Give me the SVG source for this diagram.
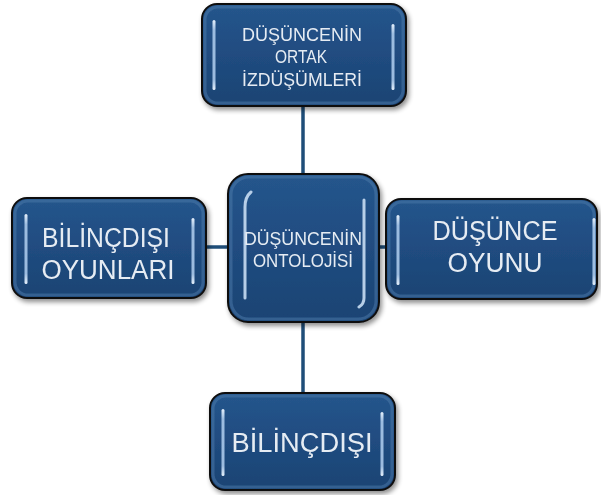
<svg xmlns="http://www.w3.org/2000/svg" width="601" height="495" viewBox="0 0 601 495">
  <defs>
    <linearGradient id="fillG" x1="0" y1="0" x2="0" y2="1">
      <stop offset="0" stop-color="#25558C"/>
      <stop offset="0.5" stop-color="#204C80"/>
      <stop offset="1" stop-color="#1B4373"/>
    </linearGradient>
    <linearGradient id="barG" x1="0" y1="0" x2="0" y2="1">
      <stop offset="0" stop-color="#E6F1FC" stop-opacity="1"/>
      <stop offset="0.15" stop-color="#A9C8EA" stop-opacity="0.9"/>
      <stop offset="0.85" stop-color="#A9C8EA" stop-opacity="0.9"/>
      <stop offset="1" stop-color="#E6F1FC" stop-opacity="1"/>
    </linearGradient>
    <filter id="shadow" x="-10%" y="-10%" width="125%" height="130%">
      <feGaussianBlur in="SourceAlpha" stdDeviation="2.5"/>
      <feOffset dx="2" dy="3" result="b"/>
      <feComponentTransfer><feFuncA type="linear" slope="0.45"/></feComponentTransfer>
      <feMerge><feMergeNode/><feMergeNode in="SourceGraphic"/></feMerge>
    </filter>
  </defs>
  <style>
    .box { fill: url(#fillG); stroke: #111; stroke-width: 2; }
    .inner { fill: none; stroke: #4A78A8; stroke-width: 3; opacity: 0.55; }
    .bar { fill: url(#barG); }
    .cbar { stroke: #C8DDF3; stroke-width: 3; stroke-linecap: round; fill: none; opacity: 0.9; }
    .conn { stroke: #1F4E79; stroke-width: 3.5; fill: none; }
    .t { font-family: "Liberation Sans", Arial, sans-serif; fill: #E6ECF3; text-anchor: middle; }
    .s { font-size: 18px; }
    .b { font-size: 27px; }
  </style>

  <g id="connectors">
    <line class="conn" x1="303" y1="105" x2="303" y2="175"/>
    <line class="conn" x1="303" y1="321" x2="303" y2="394"/>
    <line class="conn" x1="205" y1="247" x2="229" y2="247"/>
    <line class="conn" x1="378" y1="247" x2="387" y2="247"/>
  </g>

  <g id="node-top" filter="url(#shadow)">
    <rect class="box" x="202" y="4" width="204" height="102" rx="15"/>
    <rect class="inner" x="205" y="7" width="198" height="96" rx="13"/>
    <rect class="bar" x="212.5" y="20" width="3" height="70" rx="1.5"/>
    <rect class="bar" x="391.5" y="24" width="3" height="66" rx="1.5"/>
    <text class="t s" x="302" y="41" textLength="120" lengthAdjust="spacingAndGlyphs">DÜŞÜNCENİN</text>
    <text class="t s" x="301" y="63" textLength="52" lengthAdjust="spacingAndGlyphs">ORTAK</text>
    <text class="t s" x="302" y="86" textLength="120" lengthAdjust="spacingAndGlyphs">İZDÜŞÜMLERİ</text>
  </g>

  <g id="node-center" filter="url(#shadow)">
    <rect class="box" x="228" y="174" width="151" height="148" rx="20"/>
    <rect class="inner" x="231" y="177" width="145" height="142" rx="18"/>
    <path class="cbar" d="M251 192 Q245 197 245 207 L245 298"/>
    <path class="cbar" d="M364 200 L364 298 Q364 304 359 307"/>
    <text class="t s" x="303" y="245" textLength="118" lengthAdjust="spacingAndGlyphs">DÜŞÜNCENİN</text>
    <text class="t s" x="303" y="267" textLength="100" lengthAdjust="spacingAndGlyphs">ONTOLOJİSİ</text>
  </g>

  <g id="node-left" filter="url(#shadow)">
    <rect class="box" x="12" y="198" width="194" height="100" rx="15"/>
    <rect class="inner" x="15" y="201" width="188" height="94" rx="13"/>
    <rect class="bar" x="24.5" y="214" width="3" height="70" rx="1.5"/>
    <rect class="bar" x="191.5" y="218" width="3" height="66" rx="1.5"/>
    <text class="t b" x="106" y="247" textLength="128" lengthAdjust="spacingAndGlyphs">BİLİNÇDIŞI</text>
    <text class="t b" x="108" y="279" textLength="133" lengthAdjust="spacingAndGlyphs">OYUNLARI</text>
  </g>

  <g id="node-right" filter="url(#shadow)">
    <rect class="box" x="386" y="199" width="211" height="100" rx="15"/>
    <rect class="inner" x="389" y="202" width="205" height="94" rx="13"/>
    <rect class="bar" x="396.5" y="215" width="3" height="70" rx="1.5"/>
    <rect class="bar" x="592.5" y="218" width="3" height="67" rx="1.5"/>
    <text class="t b" x="495" y="240" textLength="125" lengthAdjust="spacingAndGlyphs">DÜŞÜNCE</text>
    <text class="t b" x="495" y="272" textLength="95" lengthAdjust="spacingAndGlyphs">OYUNU</text>
  </g>

  <g id="node-bottom" filter="url(#shadow)">
    <rect class="box" x="210" y="393" width="185" height="97" rx="15"/>
    <rect class="inner" x="213" y="396" width="179" height="91" rx="13"/>
    <rect class="bar" x="221.5" y="409" width="3" height="67" rx="1.5"/>
    <rect class="bar" x="380.5" y="412" width="3" height="64" rx="1.5"/>
    <text class="t b" x="302" y="452" textLength="141" lengthAdjust="spacingAndGlyphs">BİLİNÇDIŞI</text>
  </g>
</svg>
